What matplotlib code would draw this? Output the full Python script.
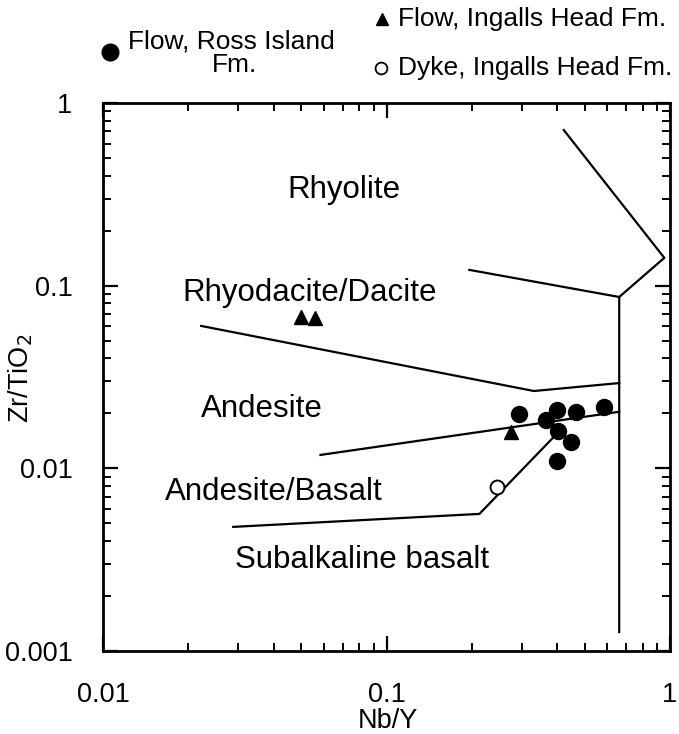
import matplotlib
matplotlib.use("Agg")
import matplotlib.pyplot as plt
from matplotlib.lines import Line2D

plt.rcParams['font.family'] = ['Liberation Sans', 'DejaVu Sans']

# --- samples ---
ross_x = [0.294, 0.365, 0.399, 0.465, 0.587, 0.402, 0.446, 0.399]
ross_y = [0.0199, 0.0184, 0.0209, 0.0204, 0.0217, 0.0160, 0.0139, 0.0110]
ingalls_flow_x = [0.275, 0.050, 0.056]
ingalls_flow_y = [0.0158, 0.0674, 0.0665]
dyke_x = [0.246]
dyke_y = [0.0079]

# --- field boundaries (Winchester & Floyd) ---
rhyolite_x = [0.422, 0.955, 0.662, 0.662]
rhyolite_y = [0.711, 0.142, 0.0867, 0.00127]
rhyodac_x = [0.196, 0.662]
rhyodac_y = [0.122, 0.0867]
andesite_x = [0.0222, 0.331, 0.662]
andesite_y = [0.0602, 0.0265, 0.0293]
andbas_x = [0.0585, 0.662]
andbas_y = [0.01184, 0.0204]
basalt_x = [0.0288, 0.2127, 0.389]
basalt_y = [0.00478, 0.00563, 0.01485]

field_names = ["Rhyolite", "Rhyodacite/Dacite", "Andesite", "Andesite/Basalt", "Subalkaline basalt"]

fig = plt.figure(figsize=(6.79, 7.34), dpi=100)
ax = fig.add_axes([103/679, 83/734, 567/679, 548/734])
ax.set_xscale('log')
ax.set_yscale('log')
ax.set_xlim(0.01, 1)
ax.set_ylim(0.001, 1)

for xs, ys in [(rhyolite_x, rhyolite_y), (rhyodac_x, rhyodac_y), (andesite_x, andesite_y),
               (andbas_x, andbas_y), (basalt_x, basalt_y)]:
    ax.plot(xs, ys, color='black', linewidth=1.6, zorder=2)

ax.plot(ross_x, ross_y, 'o', color='black', markersize=11.5, zorder=3)
ax.plot(ingalls_flow_x, ingalls_flow_y, '^', color='black', markersize=10, zorder=3)
ax.plot(dyke_x, dyke_y, 'o', markerfacecolor='white', markeredgecolor='black',
        markeredgewidth=1.4, markersize=10, zorder=3)

# field labels (axes-fraction positions)
label_pos = [(0.425, 0.841), (0.365, 0.653), (0.280, 0.442), (0.302, 0.290), (0.457, 0.166)]
for name, (fx, fy) in zip(field_names, label_pos):
    ax.text(fx, fy, name, fontsize=22.5, ha='center', va='center', transform=ax.transAxes)

ax.set_xticks([0.01, 0.1, 1])
ax.set_xticklabels(['0.01', '0.1', '1'])
ax.set_yticks([0.001, 0.01, 0.1, 1])
ax.set_yticklabels(['0.001', '0.01', '0.1', '1'])
ax.tick_params(which='major', direction='in', length=11, width=1.6, top=True, right=True,
               labelsize=19.5, pad=22)
ax.tick_params(which='minor', direction='in', length=6, width=1.4, top=True, right=True)
for s in ax.spines.values():
    s.set_linewidth(2)

ax.set_xlabel('Nb/Y', fontsize=19.5, va='center')
ax.xaxis.set_label_coords(0.502, -0.128)
ax.set_ylabel('Zr/TiO$_2$', fontsize=19.5, va='center')
ax.yaxis.set_label_coords(-0.145, 0.498)

# legend drawn above the axes
def fig_marker(px, py, **kw):
    fig.add_artist(Line2D([px/679], [1 - py/734], transform=fig.transFigure,
                          linestyle='none', color='black', **kw))

fig_marker(110, 52, marker='o', markersize=12)
fig.text(128/679, 1 - 42/734, 'Flow, Ross Island', fontsize=19, ha='left', va='center')
fig.text(234/679, 1 - 65/734, 'Fm.', fontsize=19, ha='center', va='center')
fig_marker(382, 19, marker='^', markersize=9)
fig.text(398/679, 1 - 19/734, 'Flow, Ingalls Head Fm.', fontsize=19, ha='left', va='center')
fig_marker(381, 68, marker='o', markersize=8.5, markerfacecolor='white', markeredgewidth=1.3)
fig.text(398/679, 1 - 68/734, 'Dyke, Ingalls Head Fm.', fontsize=19, ha='left', va='center')

fig.savefig('out.png', dpi=100)
